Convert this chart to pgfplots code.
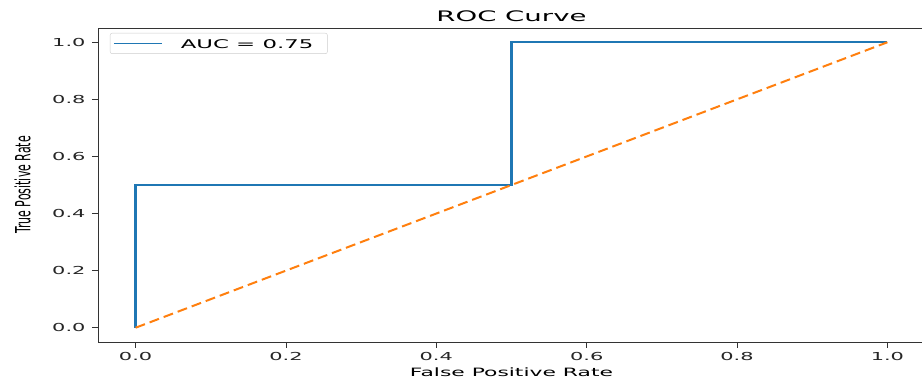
\documentclass[border=0pt]{standalone}
\usepackage{fontspec}
\setmainfont[FakeStretch=1.9]{DejaVu Sans}
\newfontfamily\widefont[FakeStretch=1.9]{DejaVu Sans}
\newfontfamily\narrowfont{DejaVu Sans}
\usepackage{pgfplots}
\pgfplotsset{compat=1.18}
\definecolor{mplblue}{HTML}{1F77B4}
\definecolor{mplorange}{HTML}{FF7F0E}
\begin{document}
\begin{tikzpicture}
\begin{axis}[
  scale only axis,
  width=827pt, height=314pt,
  xmin=-0.05, xmax=1.05, ymin=-0.05, ymax=1.05,
  xtick={0,0.2,0.4,0.6,0.8,1.0},
  ytick={0,0.2,0.4,0.6,0.8,1.0},
  xticklabels={0.0,0.2,0.4,0.6,0.8,1.0},
  yticklabels={0.0,0.2,0.4,0.6,0.8,1.0},
  tick align=outside,
  xtick pos=bottom, ytick pos=left,
  major tick length=6pt,
  tick style={black!80, line width=0.9pt},
  axis line style={black!80, line width=0.9pt},
  /pgf/number format/assume math mode=true,
  tick label style={font=\widefont\fontsize{11}{13}\selectfont, text=black!85},
  x tick label style={yshift=-1pt},
  y tick label style={xshift=-3pt},
  title={ROC Curve},
  title style={font=\widefont\fontsize{14.5}{17}\selectfont, yshift=-3pt},
  xlabel={False Positive Rate},
  xlabel style={font=\widefont\fontsize{11.5}{13}\selectfont, yshift=0pt},
  ylabel={\narrowfont True Positive Rate},
  ylabel style={font=\fontsize{11}{13}\selectfont, yscale=1.9, yshift=6pt},
  legend style={at={(0,1)}, anchor=north west, xshift=12pt, yshift=-5pt,
    draw=black!20, rounded corners=2pt, font=\widefont\fontsize{12}{14}\selectfont,
    inner xsep=3pt, inner ysep=1.5pt, nodes={inner xsep=8pt}},
  legend cell align=left,
  legend image code/.code={\draw[#1, line width=1.6pt] (0pt,0pt) -- (48pt,0pt);},
]
\addplot[mplblue, line width=2.2pt, line join=miter] coordinates {(0,0) (0,0.5) (0.5,0.5) (0.5,1) (1,1)};
\addlegendentry{\rule[-4pt]{0pt}{16pt}\hspace*{10pt}\widefont AUC = 0.75\hspace*{3pt}}
\addplot[mplorange, line width=2pt, dash pattern=on 10pt off 5pt, forget plot] coordinates {(0,0) (1,1)};
\coordinate (BL) at (rel axis cs:0,0);
\coordinate (TL) at (rel axis cs:0,1);
\end{axis}
\pgfresetboundingbox
\path ([xshift=-98pt,yshift=-43pt]BL) rectangle ([xshift=824pt,yshift=28pt]TL);
\end{tikzpicture}
\end{document}
